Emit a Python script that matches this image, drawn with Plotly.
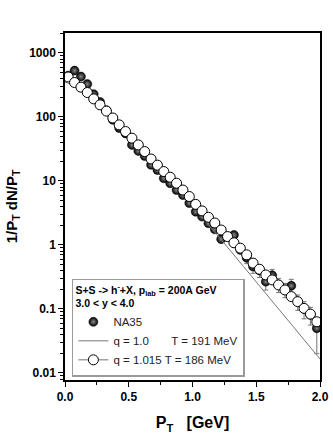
import plotly.graph_objects as go

# ---- data ----
pt_grid = [0.025, 0.075, 0.125, 0.175, 0.225, 0.275, 0.325, 0.375, 0.425, 0.475,
           0.525, 0.575, 0.625, 0.675, 0.725, 0.775, 0.825, 0.875, 0.925, 0.975,
           1.025, 1.075, 1.125, 1.175, 1.225, 1.275, 1.325, 1.375, 1.425, 1.475,
           1.525, 1.575, 1.625, 1.675, 1.725, 1.775, 1.825, 1.875, 1.925, 1.975]

na35_val = [440, 528, 426, 325, 226, 171, 127, 90, 67, 55,
            36.5, 29.4, 24.5, 17.8, 14.8, 11.0, 9.2, 7.2, 6.0, 4.5,
            3.3, 2.77, 2.18, 1.75, 1.23, 1.35, 1.43, 0.835, 0.63, 0.46,
            0.40, 0.267, 0.335, 0.24, 0.20, 0.23, 0.13, 0.10, 0.081, 0.050]
na35_err_up = [20, 20, 15, 12, 10, 8, 6, 4, 3, 2.5,
               1.8, 1.4, 1.2, 0.9, 0.7, 0.5, 0.45, 0.35, 0.3, 0.22,
               0.16, 0.14, 0.11, 0.09, 0.07, 0.08, 0.09, 0.07, 0.12, 0.10,
               0.09, 0.07, 0.08, 0.06, 0.05, 0.06, 0.035, 0.03, 0.025, 0.015]
na35_err_dn = [20, 20, 15, 12, 10, 8, 6, 4, 3, 2.5,
               1.8, 1.4, 1.2, 0.9, 0.7, 0.5, 0.45, 0.35, 0.3, 0.22,
               0.16, 0.14, 0.11, 0.09, 0.07, 0.08, 0.09, 0.07, 0.12, 0.10,
               0.09, 0.07, 0.08, 0.06, 0.05, 0.06, 0.035, 0.03, 0.025, 0.030]

q1015_val = [420, 344, 291, 240, 191, 154, 123, 96, 75, 59,
             46.5, 36.5, 28.7, 22, 17.6, 14, 11.4, 9.2, 7.2, 5.7,
             4.3, 3.4, 2.7, 2.2, 1.71, 1.35, 1.08, 0.89, 0.70, 0.52,
             0.417, 0.34, 0.284, 0.237, 0.198, 0.156, 0.13, 0.102, 0.083, 0.063]

q1_pt = [0.0, 0.1, 0.2, 0.3, 0.4, 0.5, 0.6, 0.7, 0.8, 0.9, 1.0,
         1.1, 1.2, 1.3, 1.4, 1.5, 1.6, 1.7, 1.8, 1.9, 2.0]
q1_val = [350, 300, 215, 145, 90, 56, 34, 20, 12, 7.0, 4.1,
          2.4, 1.38, 0.80, 0.46, 0.265, 0.152, 0.087, 0.050, 0.029, 0.0165]

y_tickvals = [0.01, 0.1, 1, 10, 100, 1000]
y_ticktext = ["0.01", "0.1", "1", "10", "100", "1000"]
x_tickvals = [0.0, 0.5, 1.0, 1.5, 2.0]
x_ticktext = ["0.0", "0.5", "1.0", "1.5", "2.0"]

FONT = "Liberation Sans, Arial, sans-serif"
NB = "\u00a0"

fig = go.Figure()

fig.add_trace(go.Scatter(
    x=pt_grid, y=na35_val, mode="markers", name="NA35",
    marker=dict(symbol="circle", size=9, color="#000000",
                gradient=dict(type="radial", color="#8a8a8a"),
                line=dict(width=0.5, color="#000000")),
    error_y=dict(type="data", symmetric=False, array=na35_err_up, arrayminus=na35_err_dn,
                 color="#777777", thickness=1, width=2.5),
))

fig.add_trace(go.Scatter(
    x=q1_pt, y=q1_val, mode="lines",
    name="q = 1.0" + NB * 7 + "T = 191 MeV",
    line=dict(color="#777777", width=1),
))

fig.add_trace(go.Scatter(
    x=pt_grid, y=q1015_val, mode="lines+markers",
    name="q = 1.015" + NB + "T = 186 MeV",
    line=dict(color="#777777", width=1),
    marker=dict(symbol="circle", size=10, color="white",
                line=dict(width=1, color="#000000")),
))

fig.update_layout(
    width=333, height=437,
    margin=dict(l=65, r=13, t=33, b=57),
    paper_bgcolor="white", plot_bgcolor="white",
    font=dict(family=FONT, size=11, color="black"),
    showlegend=True,
    legend=dict(
        x=0.027, y=0.01, xanchor="left", yanchor="bottom",
        bgcolor="white", bordercolor="#9a9a9a", borderwidth=1.5,
        font=dict(family=FONT, size=11.5, color="#222222"),
        itemwidth=30, tracegroupgap=0,
        title=dict(text="<b>S+S -> h<sup>-</sup>+X, p<sub>lab</sub> = 200A GeV<br>3.0 < y < 4.0</b>",
                   font=dict(family=FONT, size=10.5, color="black"), side="top"),
    ),
)

fig.update_xaxes(
    range=[0, 2.0], tickvals=x_tickvals, ticktext=x_ticktext, automargin=False,
    ticks="outside", ticklen=5, tickwidth=1, tickcolor="black",
    minor=dict(ticks="outside", ticklen=3, tickcolor="black", dtick=0.25, showgrid=False),
    showline=True, linecolor="black", linewidth=1.5, mirror=True,
    showgrid=False, zeroline=False,
    tickfont=dict(family=FONT, size=12, color="black", weight="bold"),
    title=dict(text="P<sub>T</sub>" + NB * 3 + "[GeV]", standoff=14,
               font=dict(family=FONT, size=16, color="black", weight="bold")),
)

fig.update_yaxes(
    type="log", range=[-2.11, 3.31], tickvals=y_tickvals, ticktext=y_ticktext, automargin=False,
    ticks="outside", ticklen=5, tickwidth=1, tickcolor="black",
    minor=dict(ticks="outside", ticklen=3, tickcolor="black", dtick="D1", showgrid=False),
    showline=True, linecolor="black", linewidth=1.5, mirror=True,
    showgrid=False, zeroline=False,
    tickfont=dict(family=FONT, size=12, color="black", weight="bold"),
    title=dict(text="1/P<sub>T</sub> dN/P<sub>T</sub>", standoff=8,
               font=dict(family=FONT, size=15, color="black", weight="bold")),
)

fig.write_html("out.html", config={"displayModeBar": False},
               post_script="document.body.style.margin='0';")
